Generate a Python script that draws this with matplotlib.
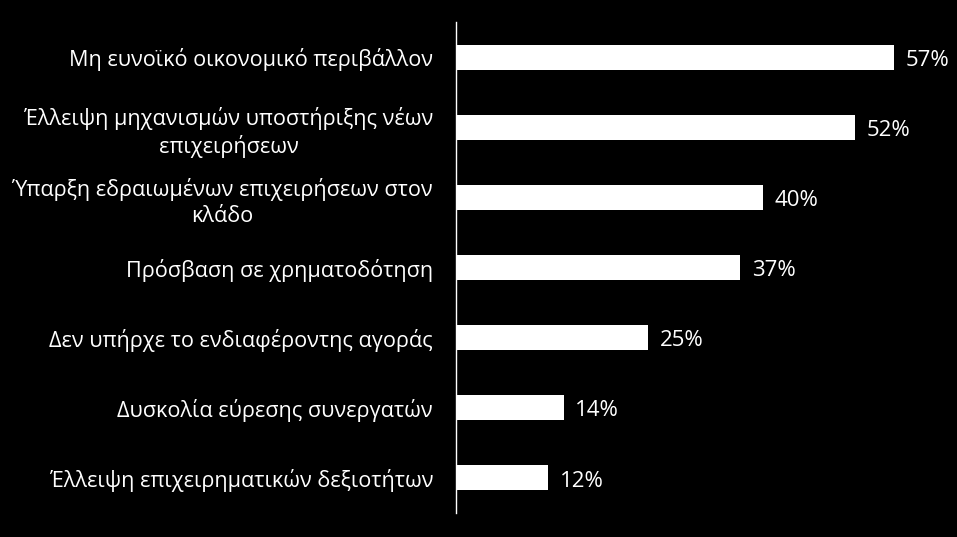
import matplotlib.pyplot as plt

categories = [
    "Μη ευνοϊκό οικονομικό περιβάλλον",
    "Έλλειψη μηχανισμών υποστήριξης νέων\nεπιχειρήσεων",
    "Ύπαρξη εδραιωμένων επιχειρήσεων στον\nκλάδο",
    "Πρόσβαση σε χρηματοδότηση",
    "Δεν υπήρχε το ενδιαφέροντης αγοράς",
    "Δυσκολία εύρεσης συνεργατών",
    "Έλλειψη επιχειρηματικών δεξιοτήτων",
]
values = [57, 52, 40, 37, 25, 14, 12]

plt.rcParams['font.family'] = ['Open Sans', 'DejaVu Sans']

fig = plt.figure(figsize=(9.57, 5.37), dpi=100, facecolor='black')
ax = fig.add_axes([456 / 957, 24 / 537, 500 / 957, 491 / 537], facecolor='black')

ypos = list(range(len(categories)))
bars = ax.barh(ypos, values, height=0.355, color='white')
ax.set_ylim(len(categories) - 0.5, -0.5)
ax.set_xlim(0, 500 / 7.68)

for b, v in zip(bars, values):
    ax.text(b.get_width() + 1.5, b.get_y() + b.get_height() / 2 + 0.045, f"{v}%",
            color='white', fontsize=16, va='center', ha='left')

ax.set_yticks(ypos)
ax.set_yticklabels(categories, fontsize=15.6, color='white', ha='center',
                   multialignment='center', linespacing=1.3)
ax.tick_params(axis='y', length=0, pad=0)
fig.canvas.draw()
# shift centred labels so their right edge sits just left of the axis
renderer = fig.canvas.get_renderer()
for lab in ax.get_yticklabels():
    bb = lab.get_window_extent(renderer)
    lab.set_x(-(bb.width / 2 + 23) / 500)
    lab.set_transform(ax.get_yaxis_transform())

ax.set_xticks([])
for s in ['top', 'right', 'bottom']:
    ax.spines[s].set_visible(False)
ax.spines['left'].set_color('white')
ax.spines['left'].set_linewidth(1)

fig.savefig('out.png', dpi=100, facecolor='black')
